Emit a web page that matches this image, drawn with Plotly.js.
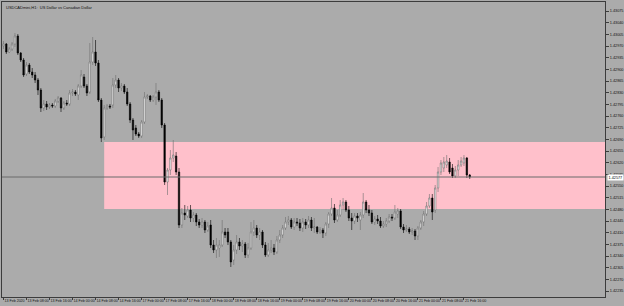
<!DOCTYPE html>
<html>
<head>
<meta charset="utf-8">
<script src="https://cdn.plot.ly/plotly-3.0.1.min.js"></script>
<style>html,body{margin:0;padding:0;background:#ababab;}#chart{width:624px;height:306px;}</style>
</head>
<body>
<div id="chart"></div>
<script>
// ---- data (USDCADmini, H1) ----
var openP = [1.42970,1.42976,1.42952,1.42961,1.42976,1.43000,1.42949,1.42928,1.42886,1.42913,
1.42892,1.42883,1.42868,1.42838,1.42784,1.42796,1.42787,1.42793,1.42790,1.42805,
1.42814,1.42784,1.42799,1.42796,1.42829,1.42832,1.42823,1.42850,1.42877,1.42850,
1.42832,1.42922,1.42952,1.42919,1.42808,1.42697,1.42784,1.42790,1.42793,1.42853,
1.42868,1.42844,1.42850,1.42832,1.42796,1.42748,1.42724,1.42706,1.42700,1.42742,
1.42817,1.42820,1.42808,1.42817,1.42832,1.42808,1.42733,1.42562,1.42598,1.42634,
1.42640,1.42592,1.42433,1.42469,1.42460,1.42478,1.42454,1.42463,1.42442,1.42433,
1.42442,1.42418,1.42433,1.42373,1.42358,1.42364,1.42373,1.42412,1.42412,1.42382,
1.42328,1.42358,1.42382,1.42370,1.42376,1.42343,1.42364,1.42412,1.42424,1.42403,
1.42412,1.42373,1.42343,1.42358,1.42364,1.42352,1.42388,1.42403,1.42424,1.42442,
1.42448,1.42427,1.42442,1.42439,1.42424,1.42442,1.42433,1.42448,1.42424,1.42427,
1.42412,1.42418,1.42409,1.42436,1.42466,1.42484,1.42448,1.42463,1.42493,1.42502,
1.42478,1.42454,1.42445,1.42460,1.42448,1.42463,1.42502,1.42478,1.42469,1.42442,
1.42451,1.42445,1.42430,1.42436,1.42445,1.42457,1.42454,1.42466,1.42475,1.42427,
1.42418,1.42421,1.42412,1.42415,1.42400,1.42424,1.42442,1.42466,1.42490,1.42514,
1.42478,1.42544,1.42592,1.42604,1.42613,1.42622,1.42604,1.42580,1.42598,1.42613,
1.42619,1.42634,1.42583];
var highP = [1.42985,1.42979,1.42967,1.42982,1.43009,1.43006,1.42952,1.42934,1.42922,1.42919,
1.42904,1.42892,1.42874,1.42844,1.42808,1.42805,1.42799,1.42799,1.42811,1.42820,
1.42817,1.42805,1.42808,1.42838,1.42841,1.42838,1.42856,1.42898,1.42886,1.42856,
1.42979,1.42997,1.42988,1.42928,1.42814,1.42793,1.42796,1.42796,1.42874,1.42883,
1.42874,1.42859,1.42856,1.42844,1.42802,1.42754,1.42733,1.42712,1.42748,1.42832,
1.42826,1.42823,1.42823,1.42859,1.42838,1.42814,1.42739,1.42604,1.42658,1.42688,
1.42652,1.42604,1.42484,1.42493,1.42490,1.42493,1.42472,1.42469,1.42451,1.42454,
1.42448,1.42442,1.42448,1.42388,1.42394,1.42388,1.42448,1.42424,1.42424,1.42388,
1.42373,1.42403,1.42394,1.42388,1.42382,1.42379,1.42442,1.42448,1.42433,1.42424,
1.42418,1.42382,1.42379,1.42388,1.42376,1.42400,1.42418,1.42433,1.42457,1.42460,
1.42454,1.42454,1.42454,1.42451,1.42454,1.42451,1.42460,1.42457,1.42454,1.42430,
1.42427,1.42424,1.42442,1.42472,1.42514,1.42496,1.42478,1.42508,1.42514,1.42508,
1.42490,1.42469,1.42469,1.42469,1.42472,1.42529,1.42508,1.42493,1.42478,1.42460,
1.42463,1.42457,1.42445,1.42454,1.42466,1.42466,1.42493,1.42484,1.42481,1.42436,
1.42433,1.42427,1.42424,1.42421,1.42430,1.42448,1.42475,1.42502,1.42526,1.42526,
1.42553,1.42607,1.42628,1.42637,1.42643,1.42634,1.42616,1.42610,1.42628,1.42637,
1.42643,1.42637,1.42586];
var lowP = [1.42961,1.42946,1.42949,1.42955,1.42967,1.42943,1.42922,1.42877,1.42880,1.42886,
1.42874,1.42859,1.42823,1.42772,1.42775,1.42778,1.42781,1.42784,1.42784,1.42799,
1.42772,1.42778,1.42790,1.42790,1.42820,1.42820,1.42808,1.42844,1.42844,1.42820,
1.42826,1.42913,1.42910,1.42802,1.42682,1.42688,1.42778,1.42781,1.42784,1.42844,
1.42832,1.42835,1.42826,1.42790,1.42739,1.42688,1.42700,1.42694,1.42694,1.42736,
1.42811,1.42802,1.42802,1.42793,1.42802,1.42724,1.42553,1.42523,1.42583,1.42622,
1.42583,1.42424,1.42424,1.42448,1.42454,1.42442,1.42442,1.42430,1.42424,1.42424,
1.42409,1.42412,1.42364,1.42349,1.42334,1.42337,1.42367,1.42394,1.42373,1.42307,
1.42313,1.42346,1.42358,1.42352,1.42334,1.42334,1.42358,1.42400,1.42394,1.42388,
1.42364,1.42337,1.42337,1.42349,1.42343,1.42346,1.42379,1.42394,1.42418,1.42433,
1.42421,1.42418,1.42430,1.42415,1.42412,1.42421,1.42424,1.42415,1.42409,1.42406,
1.42406,1.42394,1.42400,1.42424,1.42460,1.42439,1.42442,1.42457,1.42478,1.42472,
1.42445,1.42418,1.42436,1.42442,1.42418,1.42454,1.42469,1.42460,1.42436,1.42433,
1.42436,1.42424,1.42424,1.42427,1.42439,1.42445,1.42448,1.42454,1.42421,1.42409,
1.42412,1.42406,1.42403,1.42388,1.42388,1.42418,1.42430,1.42460,1.42484,1.42448,
1.42469,1.42532,1.42583,1.42592,1.42604,1.42586,1.42574,1.42574,1.42580,1.42607,
1.42610,1.42574,1.42571];
var closeP = [1.42976,1.42952,1.42961,1.42976,1.43000,1.42949,1.42928,1.42883,1.42913,1.42892,
1.42883,1.42868,1.42838,1.42784,1.42796,1.42787,1.42793,1.42790,1.42805,1.42814,
1.42784,1.42799,1.42796,1.42829,1.42832,1.42826,1.42850,1.42883,1.42850,1.42829,
1.42922,1.42952,1.42919,1.42808,1.42694,1.42784,1.42790,1.42787,1.42853,1.42868,
1.42844,1.42850,1.42832,1.42796,1.42748,1.42718,1.42706,1.42700,1.42742,1.42817,
1.42820,1.42808,1.42817,1.42832,1.42808,1.42733,1.42562,1.42598,1.42634,1.42643,
1.42592,1.42433,1.42469,1.42463,1.42478,1.42454,1.42463,1.42442,1.42433,1.42442,
1.42418,1.42430,1.42373,1.42358,1.42373,1.42373,1.42412,1.42403,1.42382,1.42322,
1.42358,1.42382,1.42370,1.42376,1.42343,1.42364,1.42412,1.42424,1.42403,1.42412,
1.42373,1.42343,1.42358,1.42364,1.42352,1.42388,1.42403,1.42424,1.42442,1.42448,
1.42427,1.42442,1.42439,1.42424,1.42442,1.42433,1.42448,1.42424,1.42427,1.42412,
1.42418,1.42409,1.42436,1.42466,1.42484,1.42448,1.42463,1.42493,1.42502,1.42478,
1.42454,1.42445,1.42460,1.42454,1.42463,1.42502,1.42478,1.42469,1.42442,1.42451,
1.42445,1.42430,1.42436,1.42445,1.42457,1.42454,1.42472,1.42475,1.42427,1.42418,
1.42421,1.42412,1.42415,1.42400,1.42424,1.42442,1.42466,1.42490,1.42514,1.42472,
1.42544,1.42592,1.42619,1.42622,1.42625,1.42592,1.42580,1.42598,1.42613,1.42625,
1.42634,1.42583,1.42577];
var zoneTop = 1.42682;
var zoneBottom = 1.42481;
var zoneStartBar = 35;
var lastPrice = 1.42577;
var timeLabels = ["13 Feb 2020","13 Feb 08:00","13 Feb 16:00","14 Feb 00:00","14 Feb 08:00","14 Feb 16:00",
"17 Feb 00:00","17 Feb 08:00","17 Feb 16:00","18 Feb 00:00","18 Feb 08:00","18 Feb 16:00",
"19 Feb 00:00","19 Feb 08:00","19 Feb 16:00","20 Feb 00:00","20 Feb 08:00","20 Feb 16:00",
"21 Feb 00:00","21 Feb 08:00","21 Feb 16:00"];
var titleText = "USDCADmini,H1:  US Dollar vs Canadian Dollar";

// ---- build ----
var xs = openP.map(function(_, i){ return i; });
var tickPos = timeLabels.map(function(_, k){ return k * 8; });

var trace = {
  type: 'candlestick',
  x: xs, open: openP, high: highP, low: lowP, close: closeP,
  increasing: {line: {color: '#6e6e6e', width: 0.6}, fillcolor: '#ffffff'},
  decreasing: {line: {color: '#000000', width: 0.6}, fillcolor: '#000000'},
  whiskerwidth: 0,
  hoverinfo: 'skip',
  showlegend: false
};

var layout = {
  width: 624, height: 306,
  margin: {l: 2, r: 19, t: 2, b: 9, pad: 0},
  paper_bgcolor: '#ababab',
  plot_bgcolor: '#ababab',
  font: {family: 'Liberation Sans, Arial, sans-serif', size: 4, color: '#111'},
  showlegend: false,
  xaxis: {
    range: [-0.5, 209], fixedrange: true,
    rangeslider: {visible: false},
    showgrid: false, zeroline: false,
    showline: true, mirror: true, linecolor: '#3c3c3c', linewidth: 1,
    ticks: 'outside', ticklen: 2, tickcolor: '#3c3c3c', tickwidth: 1,
    tickmode: 'array', tickvals: tickPos, ticktext: timeLabels,
    tickangle: 0, automargin: false,
    ticklabelposition: 'outside right',
    tickfont: {size: 3.6, color: '#111'}
  },
  yaxis: {
    side: 'right', automargin: false,
    range: [1.42217, 1.43102], fixedrange: true,
    showgrid: false, zeroline: false,
    showline: true, mirror: true, linecolor: '#3c3c3c', linewidth: 1,
    ticks: 'outside', ticklen: 3, tickcolor: '#3c3c3c', tickwidth: 1,
    tick0: 1.43075, dtick: 0.00035, tickformat: '.5f',
    tickfont: {size: 3.8, color: '#111'}
  },
  shapes: [
    {type: 'rect', xref: 'x', yref: 'y', x0: zoneStartBar, x1: 209, y0: zoneBottom, y1: zoneTop,
     fillcolor: '#ffc0cb', line: {width: 0}, layer: 'below'},
    {type: 'line', xref: 'paper', yref: 'y', x0: 0, x1: 1, y0: lastPrice, y1: lastPrice,
     line: {color: '#6a6a6a', width: 1}, layer: 'above'}
  ],
  annotations: [
    {xref: 'paper', yref: 'paper', x: 0.004, y: 0.998, xanchor: 'left', yanchor: 'top',
     text: titleText, showarrow: false, font: {size: 4, color: '#111'}},
    {xref: 'paper', yref: 'y', x: 1.003, y: lastPrice, xanchor: 'left', yanchor: 'middle',
     text: lastPrice.toFixed(5), showarrow: false, bgcolor: '#ffffff', borderpad: 0.5,
     font: {size: 3.8, color: '#000'}}
  ]
};

Plotly.newPlot('chart', [trace], layout, {staticPlot: true, displayModeBar: false});
</script>
</body>
</html>
